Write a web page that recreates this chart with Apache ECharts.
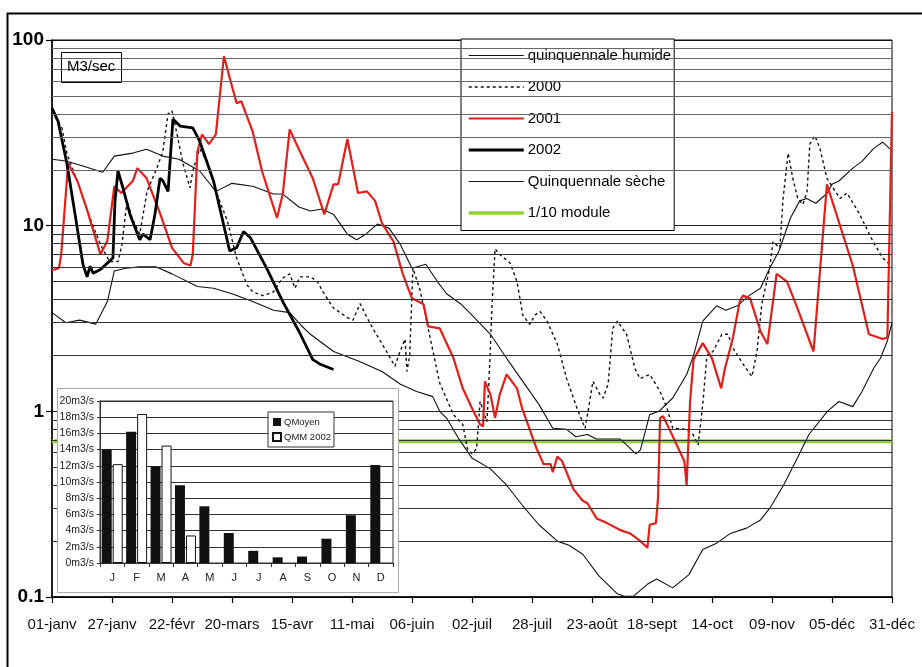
<!DOCTYPE html>
<html><head><meta charset="utf-8">
<script src="https://cdn.jsdelivr.net/npm/echarts@6/dist/echarts.min.js"></script>
<style>html,body{margin:0;padding:0;background:#fff}#c{width:922px;height:667px}</style>
</head><body><div id="c"></div>
<script>
const xLabels = ['01-janv','27-janv','22-févr','20-mars','15-avr','11-mai','06-juin','02-juil','28-juil','23-août','18-sept','14-oct','09-nov','05-déc','31-déc'];
const minorGridLow = [0.2,0.3,0.4,0.5,0.6,0.7,0.8,0.9,2,3,4,5,6,7,8,9];
const minorGridHigh = [20,30,40,50,60,70,80,90];
const moduleTenth = 0.69;

const humide = [[0,22.8],[6,22.3],[13,21],[22,19.4],[27,23.7],[35,24.6],[41,25.8],[48,23.7],[55,22.8],[64,19.7],[71,15.3],[78,16.9],[87,16.3],[96,14.8],[100,14.8],[107,12.6],[112,12.0],[117,12.3],[122,11.5],[128,9.0],[132,8.4],[136,9.0],[141,10.2],[146,9.7],[151,7.9],[156,5.9],[162,6.2],[167,5.0],[171,4.3],[177,3.8],[182,3.3],[190,2.6],[197,1.93],[204,1.45],[211,1.09],[217,0.81],[223,0.80],[227,0.73],[232,0.75],[236,0.71],[240,0.71],[246,0.71],[249,0.66],[253,0.59],[255,0.62],[259,0.96],[263,1.0],[269,1.18],[275,1.58],[278,2.0],[282,3.06],[288,3.7],[292,3.5],[297,3.7],[302,4.2],[307,4.6],[311,5.9],[315,7.3],[320,11],[324,13.6],[327,14],[331,13.2],[336,15],[338,16.7],[341,17.4],[347,20.4],[351,22.2],[356,26],[360,28.2],[364,25.3]];

const seche = [[0,3.4],[6,3.0],[12,3.1],[19,2.95],[24,3.9],[27,5.7],[32,5.9],[38,6.0],[45,6.0],[52,5.5],[63,4.7],[70,4.6],[78,4.3],[87,3.9],[96,3.5],[103,3.4],[108,2.9],[112,2.6],[122,2.1],[133,1.86],[143,1.64],[151,1.4],[158,1.28],[165,1.2],[168,1.0],[171,0.92],[176,0.72],[182,0.56],[190,0.49],[197,0.40],[204,0.31],[211,0.245],[219,0.2],[224,0.19],[230,0.17],[237,0.13],[245,0.104],[248,0.101],[252,0.101],[258,0.117],[262,0.125],[269,0.112],[276,0.132],[282,0.18],[288,0.195],[294,0.22],[301,0.235],[307,0.26],[311,0.30],[317,0.40],[323,0.56],[328,0.75],[336,1.0],[341,1.13],[347,1.06],[351,1.28],[356,1.7],[359,1.93],[362,2.4],[364,3.0]];

const y2000 = [[0,41],[4.3,33.6],[6.5,24.3],[12,16],[16.5,11],[21,7.9],[25,6.4],[28.6,6.4],[30.3,7.9],[32.5,13.6],[34.7,11],[38,9],[41.2,15.3],[45.5,20.5],[48,25],[50.3,40],[52,41.5],[54.2,31],[56.8,21.5],[59.8,16],[61,19.7],[64,26],[67,22.2],[71.5,14.8],[76,10.6],[80,6.7],[84.5,4.8],[87,4.4],[91.4,4.2],[96,4.4],[99.7,5.2],[103,5.5],[105.3,4.6],[107.5,5.3],[112,5.3],[115,5.0],[117.4,4.4],[122,3.6],[128,3.2],[130.4,3.1],[133.5,3.8],[136.5,3.2],[139,2.8],[145,2.1],[148.6,1.75],[150.8,2.1],[153,2.45],[153.8,1.64],[155,2.0],[156.4,5.9],[159.5,4.5],[163,2.8],[168,1.42],[174,0.96],[178,0.85],[180,0.63],[182,0.59],[184,0.63],[185.5,1.13],[188.5,0.88],[189.8,1.93],[190.7,3.8],[192,7.5],[194,7.0],[198.5,6.3],[201.5,5.0],[204,3.3],[207,2.94],[209.3,3.3],[211.5,3.45],[214.5,3.06],[219,2.3],[223,1.5],[227.5,1.04],[231,0.81],[232.3,1.0],[234.4,1.45],[237.5,1.23],[238.8,1.18],[241,1.4],[243,2.8],[245,3.06],[249,2.6],[252.6,1.7],[254.8,1.5],[259,1.58],[263.5,1.28],[266.5,1.04],[269,0.81],[275,0.80],[277.8,0.75],[280,0.66],[282,1.09],[283.8,2.0],[286.4,2.1],[290.3,2.6],[293,2.6],[295,2.2],[299.4,1.8],[303.3,1.54],[305.5,2.1],[307.6,3.8],[311,5.9],[312.4,8.2],[315.4,7.6],[316.8,14],[319,24.6],[321,18],[323.2,14],[325.4,13],[327.2,15.3],[328.4,27.5],[330.6,30.5],[332.8,26],[335.8,18],[338.4,16],[341.5,14],[344.5,15],[350,11.5],[355.8,8.2],[360,6.7],[363,6.2]];

const y2001 = [[0,5.75],[3,5.9],[4,7.0],[7,21.7],[11,17.4],[15,12.4],[21,7.0],[24,8.3],[27,16.3],[30,15],[35,17.4],[37,20.4],[41,18],[47,11.5],[52,7.6],[57,6.3],[60,6.1],[61,7],[63,25],[65,31],[68,27.5],[71,31],[74.5,82],[77,62.5],[80,45.7],[82,46.8],[87,32],[91,19.7],[97.5,11],[100,14.8],[103,33],[107.5,25],[113,18],[118,11.5],[122,16.7],[124,16.7],[128,29.3],[132.6,15],[136.5,15.3],[140,13.6],[143,10.3],[148,8.2],[152,5.5],[156,4.06],[161,3.77],[163,2.87],[168,2.8],[174,1.93],[178,1.33],[182,1.04],[185.5,0.85],[186.8,0.83],[187.6,1.45],[190,1.23],[192,0.92],[194,1.23],[197,1.58],[201.5,1.33],[203.7,1.04],[210,0.63],[213,0.52],[216,0.52],[217,0.47],[219,0.57],[221,0.54],[226,0.38],[230,0.33],[232,0.32],[236,0.265],[240.5,0.25],[246,0.23],[250.5,0.22],[255,0.2],[258,0.184],[259,0.245],[261.7,0.25],[262.6,0.34],[263.5,0.92],[264.8,0.94],[268,0.78],[272,0.61],[274,0.54],[275,0.40],[276.5,1.13],[278,1.9],[282,2.33],[286,1.93],[290,1.33],[291.6,1.7],[295,2.47],[298,3.9],[299.4,4.2],[302.5,4.06],[307,2.7],[310,2.3],[314,5.5],[318.5,5.0],[323,3.6],[330,2.1],[335.8,16.7],[347,6.1],[354,2.6],[360,2.45],[362,2.5],[364,41]];

const y2002 = [[0,43],[2.6,36.6],[6.5,21.5],[10,11.5],[13.4,6.2],[15.2,5.3],[16.5,6.05],[17.8,5.55],[21,5.8],[26.4,6.7],[27.3,13.6],[28.6,19.7],[30.8,15.9],[33.8,11.5],[38,8.4],[39.4,9],[42.5,8.4],[44.6,11.5],[46.8,18],[48,17.5],[50.3,15.3],[52.4,37.5],[55.5,34.4],[61,33.6],[64,28.5],[70,17.4],[77,7.3],[80,7.6],[83,9.3],[86,8.6],[93,5.9],[100,3.9],[107,2.7],[113,1.9],[116,1.8],[122,1.68]];

const months = ['J','F','M','A','M','J','J','A','S','O','N','D'];
const qMoyen = [14,16.2,11.9,9.6,7.0,3.7,1.5,0.7,0.8,3.0,5.9,12.1];
const qmm2002 = [12.2,18.4,14.5,3.4,null,null,null,null,null,null,null,null];

const FONT = '"Liberation Sans", Arial, sans-serif';
const GREEN = '#92cf3f';
const chart = echarts.init(document.getElementById('c'), null, {renderer:'canvas'});
const option = {
  animation: false,
  backgroundColor: '#fff',
  textStyle: {fontFamily: FONT, color: '#000'},
  grid: [
    {left: 52, top: 40, width: 840, height: 557, show: true, borderColor: '#000', borderWidth: 1, z: 2},
    {left: 100, top: 401, width: 293, height: 162, show: true, borderColor: '#333', borderWidth: 1, backgroundColor: '#fff', z: 7}
  ],
  xAxis: [
    {type: 'value', gridIndex: 0, min: 0, max: 364, interval: 26,
     axisLine: {show: true, lineStyle: {color: '#000', width: 1.5}},
     axisTick: {show: true, length: 6, lineStyle: {color: '#000', width: 1.2}},
     axisLabel: {margin: 20, fontSize: 15, color: '#111', fontFamily: FONT,
       formatter: v => xLabels[Math.round(v / 26)] || ''},
     splitLine: {show: false}},
    {type: 'category', gridIndex: 1, data: months, z: 7,
     axisLine: {show: true, lineStyle: {color: '#333'}},
     axisTick: {show: true, length: 4, lineStyle: {color: '#333'}},
     axisLabel: {fontSize: 11, color: '#222', margin: 9, fontFamily: FONT},
     splitLine: {show: false}}
  ],
  yAxis: [
    {type: 'log', logBase: 10, gridIndex: 0, min: 0.1, max: 100,
     axisLine: {show: true, lineStyle: {color: '#000', width: 1.5}},
     axisTick: {show: true, length: 6, lineStyle: {color: '#000', width: 1.2}},
     axisLabel: {fontSize: 19, fontWeight: 'bold', color: '#000', margin: 8, fontFamily: FONT,
       formatter: v => (v < 1 ? String(+v.toFixed(1)) : String(Math.round(v)))},
     splitLine: {show: true, lineStyle: {color: '#222', width: 1}}},
    {type: 'value', gridIndex: 1, min: 0, max: 20, interval: 2, z: 7,
     axisLine: {show: true, lineStyle: {color: '#333'}},
     axisTick: {show: true, length: 3, lineStyle: {color: '#333'}},
     axisLabel: {fontSize: 10.5, color: '#222', margin: 6, fontFamily: FONT, formatter: v => v + 'm3/s'},
     splitLine: {show: true, lineStyle: {color: '#333', width: 1}}}
  ],
  legend: [
    {data: [
       {name: 'quinquennale humide', lineStyle: {width: 1.2}},
       {name: '2000', lineStyle: {width: 1.4}},
       {name: '2001', lineStyle: {width: 2.2}},
       {name: '2002', lineStyle: {width: 3}},
       {name: 'Quinquennale sèche', lineStyle: {width: 1.2}},
       {name: '1/10 module', lineStyle: {width: 3.5}}],
     orient: 'vertical', left: 461, top: 39, itemWidth: 55, itemHeight: 14, itemGap: 16.5,
     padding: [9, 3, 10, 6], backgroundColor: '#fff', borderColor: '#000', borderWidth: 1,
     borderRadius: 0, z: 5, itemStyle: {opacity: 0},
     textStyle: {fontSize: 15, color: '#000', fontFamily: FONT, padding: [0,0,0,-1]}},
    {data: [{name: 'QMoyen', icon: 'rect'}, {name: 'QMM 2002', icon: 'rect'}],
     orient: 'vertical', left: 268, top: 412, itemWidth: 8, itemHeight: 8, itemGap: 5,
     padding: [5, 3, 5, 4], backgroundColor: '#fff', borderColor: '#333', borderWidth: 1, borderRadius: 0, z: 9,
     textStyle: {fontSize: 9.5, color: '#222', fontFamily: FONT, padding: [0,0,0,-2]}}
  ],
  graphic: [
    {type: 'rect', left: 5, top: 11, z: 1, silent: true,
     shape: {width: 940, height: 700}, style: {fill: 'none', stroke: '#000', lineWidth: 2}},
    {type: 'rect', left: 61, top: 52, z: 5, silent: true,
     shape: {width: 60, height: 30}, style: {fill: '#fff', stroke: '#000', lineWidth: 1}},
    {type: 'text', left: 67, top: 59, z: 6, silent: true,
     style: {text: 'M3/sec', font: '15px ' + FONT, fill: '#000'}},
    {type: 'rect', left: 57, top: 388, z: 6, silent: true,
     shape: {width: 341, height: 204}, style: {fill: '#fff', stroke: '#aaa', lineWidth: 1}}
  ],
  series: [
    {name: 'gridLow', type: 'line', xAxisIndex: 0, yAxisIndex: 0, symbol: 'none', data: [], z: 1,
     markLine: {silent: true, symbol: 'none', animation: false, label: {show: false},
       lineStyle: {color: '#333', width: 1, type: 'solid'},
       data: minorGridLow.map(v => ({yAxis: v}))}},
    {name: 'gridHigh', type: 'line', xAxisIndex: 0, yAxisIndex: 0, symbol: 'none', data: [], z: 1,
     markLine: {silent: true, symbol: 'none', animation: false, label: {show: false},
       lineStyle: {color: '#666', width: 1, type: 'solid'},
       data: minorGridHigh.map(v => ({yAxis: v}))}},
    {name: '1/10 module', type: 'line', xAxisIndex: 0, yAxisIndex: 0, symbol: 'none',
     data: [[0, moduleTenth], [364, moduleTenth]],
     lineStyle: {color: GREEN, width: 4}, itemStyle: {color: GREEN}, z: 2},
    {name: 'quinquennale humide', type: 'line', symbol: 'none', data: humide,
     lineStyle: {color: '#111', width: 1.1}, itemStyle: {color: '#111'}, z: 3},
    {name: 'Quinquennale sèche', type: 'line', symbol: 'none', data: seche,
     lineStyle: {color: '#111', width: 1.1}, itemStyle: {color: '#111'}, z: 3},
    {name: '2000', type: 'line', symbol: 'none', data: y2000,
     lineStyle: {color: '#111', width: 1.4, type: [3, 3]}, itemStyle: {color: '#111'}, z: 3},
    {name: '2001', type: 'line', symbol: 'none', data: y2001,
     lineStyle: {color: '#e0201b', width: 2.2}, itemStyle: {color: '#e0201b'}, z: 3},
    {name: '2002', type: 'line', symbol: 'none', data: y2002,
     lineStyle: {color: '#000', width: 2.8}, itemStyle: {color: '#000'}, z: 3},
    {name: 'QMoyen', type: 'bar', xAxisIndex: 1, yAxisIndex: 1, data: qMoyen,
     barWidth: 10, barGap: '10%', itemStyle: {color: '#111'}, z: 8},
    {name: 'QMM 2002', type: 'bar', xAxisIndex: 1, yAxisIndex: 1, data: qmm2002,
     barWidth: 10, barGap: '10%', itemStyle: {color: '#fff', borderColor: '#111', borderWidth: 1}, z: 8}
  ]
};
chart.setOption(option);
</script></body></html>
